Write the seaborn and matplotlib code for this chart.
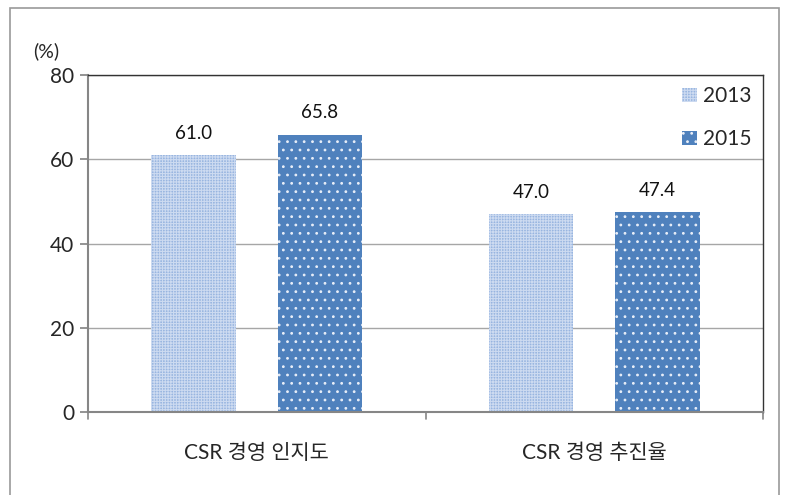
import matplotlib
matplotlib.use("Agg")
import matplotlib.pyplot as plt
from matplotlib.patches import Rectangle
import seaborn as sns
import pandas as pd

categories = ["CSR 경영 인지도", "CSR 경영 추진율"]
years = ["2013", "2015"]
values_2013 = [61.0, 47.0]
values_2015 = [65.8, 47.4]

df = pd.DataFrame({
    "category": categories * 2,
    "year": [years[0]] * 2 + [years[1]] * 2,
    "value": values_2013 + values_2015,
})

sns.set_theme(style="white")
plt.rcParams["font.family"] = ["Lato", "Noto Sans CJK KR", "DejaVu Sans"]
plt.rcParams["hatch.linewidth"] = 0.8

fig = plt.figure(figsize=(7.85, 4.95), dpi=100)
ax = fig.add_axes([88 / 785, 1 - 412 / 495, (763 - 88) / 785, (412 - 75) / 495])

palette = {"2013": "#98B5E0", "2015": "#4F81BD"}
hatch_cols = {"2013": "#CCDAF0", "2015": "#E8EEF8"}
sns.barplot(data=df, x="category", y="value", hue="year", palette=palette,
            width=0.75, gap=0.33, ax=ax, legend=False, saturation=1)

hatches = {"2013": "++++++", "2015": ".."}
n = len(categories)
for i, patch in enumerate(ax.patches[: 2 * n]):
    yr = years[i // n]
    patch.set_hatch(hatches[yr])
    patch.set_edgecolor(hatch_cols[yr])
    patch.set_linewidth(0)

for i, patch in enumerate(ax.patches[: 2 * n]):
    h = patch.get_height()
    ax.text(patch.get_x() + patch.get_width() / 2, h + 3.2, f"{h:.1f}",
            ha="center", va="bottom", fontsize=13.5, color="#111111")

ax.set_ylim(0, 80)
ax.set_xlim(-0.5, 1.5)
ax.set_yticks([0, 20, 40, 60, 80])
ax.set_xticks([0, 1])
ax.set_xticklabels(categories, fontsize=15)
ax.tick_params(axis="y", labelsize=15, length=6, direction="out", left=True,
               color="#868686", pad=4)
ax.tick_params(axis="x", length=0, pad=22)
for xb in [-0.5, 0.5, 1.5]:
    ax.plot([xb, xb], [0, -0.022], transform=ax.get_xaxis_transform(),
            color="#868686", lw=1.2, clip_on=False)
ax.set_xlabel("")
ax.set_ylabel("")
ax.yaxis.grid(True, color="#A6A6A6", lw=1)
ax.set_axisbelow(True)
for s in ["top", "right"]:
    ax.spines[s].set_color("#333333")
    ax.spines[s].set_linewidth(1)
for s in ["left", "bottom"]:
    ax.spines[s].set_color("#868686")
    ax.spines[s].set_linewidth(1.5)

handles = [Rectangle((0, 0), 1, 1, facecolor=palette[y], hatch=hatches[y],
                     edgecolor=hatch_cols[y], linewidth=0)
           for y in years]
ax.legend(handles, years, loc="upper right", bbox_to_anchor=(1.0, 1.0),
          frameon=False, fontsize=15, handlelength=0.7, handleheight=0.7,
          handletextpad=0.3, labelspacing=1.1, borderaxespad=0.15)

ax.text(-0.062, 1.045, "(%)", transform=ax.transAxes, fontsize=14,
        ha="center", va="bottom")

fig.add_artist(Rectangle((10 / 785, -0.01), (779 - 10) / 785, 1.01 - 8 / 495,
                         transform=fig.transFigure, fill=False,
                         edgecolor="#9A9A9A", lw=1.2))

fig.savefig("out.png", dpi=100)
